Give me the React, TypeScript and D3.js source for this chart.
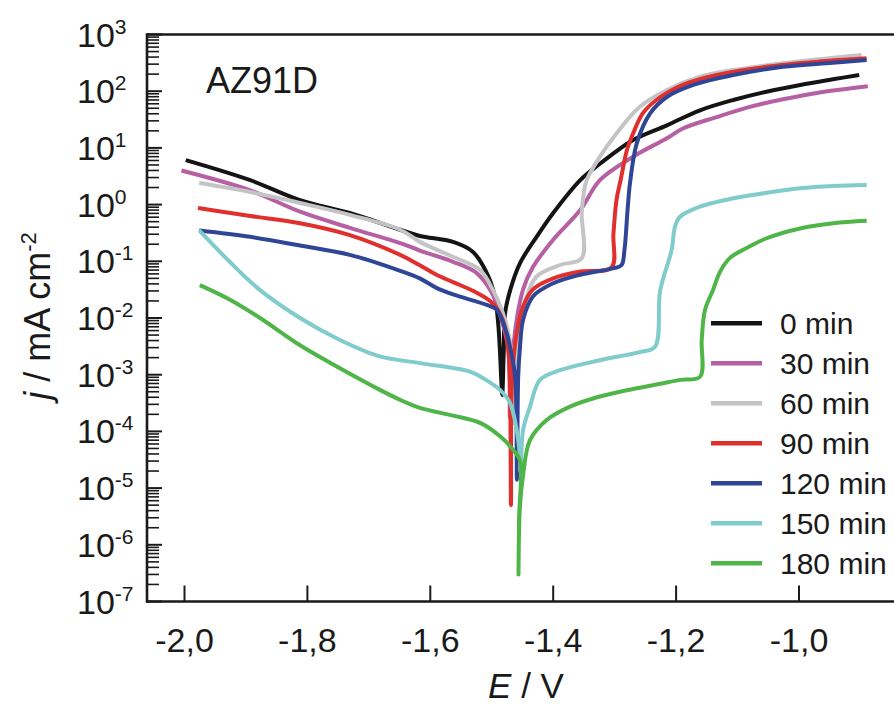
import React from 'react';
import * as d3 from 'd3';

const LEGEND_LABELS = ['0 min', '30 min', '60 min', '90 min', '120 min', '150 min', '180 min'];
const COLORS = ['#141414', '#b65fa2', '#c4c4c7', '#e0302e', '#2f4596', '#80cbcb', '#50b548'];
const X_TICKS = [-2.0, -1.8, -1.6, -1.4, -1.2, -1.0];
const Y_DECADES = [-7, -6, -5, -4, -3, -2, -1, 0, 1, 2, 3];

// [E / V, j / mA cm^-2]
const S0: [number, number][] = [
  [-1.998, 6.1], [-1.893, 2.7], [-1.812, 1.2], [-1.731, 0.71], [-1.649, 0.36], [-1.617, 0.28],
  [-1.563, 0.22], [-1.531, 0.148], [-1.508, 0.062], [-1.495, 0.024], [-1.49, 0.0092],
  [-1.487, 0.0031], [-1.4845, 8.1e-4], [-1.483, 4.4e-4], [-1.4805, 2.5e-3], [-1.4784, 0.012],
  [-1.47, 0.031], [-1.454, 0.093], [-1.427, 0.27], [-1.4, 0.71], [-1.356, 2.7], [-1.3234, 5.3],
  [-1.27, 13.8], [-1.215, 25], [-1.161, 46], [-1.107, 70], [-1.053, 98], [-0.998, 129],
  [-0.945, 162], [-0.902, 193],
];
const S30: [number, number][] = [
  [-2.005, 4.0], [-1.894, 1.8], [-1.812, 0.75], [-1.731, 0.39], [-1.649, 0.21], [-1.617, 0.155],
  [-1.563, 0.098], [-1.5245, 0.062], [-1.5, 0.028], [-1.484, 0.0092], [-1.4736, 0.0031],
  [-1.471, 8e-4], [-1.4705, 1.8e-4], [-1.468, 1.2e-3], [-1.4594, 0.0093], [-1.449, 0.032],
  [-1.433, 0.079], [-1.4, 0.24], [-1.356, 0.8], [-1.324, 2.7], [-1.27, 7], [-1.215, 14.8],
  [-1.189, 22], [-1.134, 35], [-1.08, 53], [-1.026, 72], [-0.971, 93], [-0.888, 122],
];
const S60: [number, number][] = [
  [-1.976, 2.4], [-1.893, 1.67], [-1.812, 1.07], [-1.731, 0.66], [-1.649, 0.36], [-1.617, 0.22],
  [-1.563, 0.12], [-1.519, 0.07], [-1.498, 0.031], [-1.482, 0.0123], [-1.4707, 0.0041],
  [-1.466, 1e-3], [-1.4654, 1.4e-4], [-1.463, 1.2e-3], [-1.4544, 0.0062], [-1.443, 0.024],
  [-1.427, 0.054], [-1.389, 0.086], [-1.3536, 0.113], [-1.3536, 0.7], [-1.351, 1.38],
  [-1.3455, 2.7], [-1.324, 7], [-1.297, 18], [-1.259, 53], [-1.215, 105], [-1.161, 180],
  [-1.107, 237], [-1.026, 310], [-0.898, 435],
];
const S90: [number, number][] = [
  [-1.978, 0.87], [-1.893, 0.63], [-1.812, 0.47], [-1.731, 0.29], [-1.649, 0.13], [-1.617, 0.085],
  [-1.59, 0.058], [-1.563, 0.043], [-1.5245, 0.028], [-1.498, 0.018], [-1.482, 0.0092],
  [-1.4736, 0.0031], [-1.4705, 8e-4], [-1.4687, 5e-6], [-1.467, 8e-4], [-1.4594, 0.0054],
  [-1.449, 0.016], [-1.433, 0.032], [-1.4, 0.05], [-1.356, 0.066], [-1.305, 0.078], [-1.302, 0.3],
  [-1.297, 1.2], [-1.29, 2.8], [-1.28, 9.2], [-1.27, 18], [-1.254, 41], [-1.232, 70],
  [-1.189, 129], [-1.134, 193], [-1.053, 269], [-0.971, 331], [-0.89, 380],
];
const S120: [number, number][] = [
  [-1.976, 0.35], [-1.893, 0.27], [-1.812, 0.19], [-1.731, 0.13], [-1.649, 0.068], [-1.617, 0.05],
  [-1.59, 0.034], [-1.563, 0.026], [-1.508, 0.017], [-1.492, 0.014], [-1.4757, 0.0054],
  [-1.4703, 0.0031], [-1.462, 9.3e-4], [-1.459, 1.4e-5], [-1.457, 9e-4], [-1.454, 0.0031],
  [-1.449, 0.0093], [-1.433, 0.024], [-1.4, 0.041], [-1.356, 0.058], [-1.303, 0.075],
  [-1.289, 0.085], [-1.284, 0.16], [-1.279, 0.8], [-1.275, 2.4], [-1.264, 12], [-1.242, 41],
  [-1.215, 79], [-1.172, 129], [-1.107, 193], [-1.026, 269], [-0.945, 316], [-0.89, 355],
];
const S150: [number, number][] = [
  [-1.976, 0.35], [-1.926, 0.097], [-1.877, 0.031], [-1.812, 0.01], [-1.747, 0.0041],
  [-1.682, 0.0021], [-1.617, 0.0016], [-1.5354, 0.00113], [-1.5095, 8.1e-4], [-1.4866, 5.4e-4],
  [-1.4703, 3.2e-4], [-1.4594, 1.05e-4], [-1.4541, 3.5e-5], [-1.4535, 2e-5], [-1.452, 3.5e-5],
  [-1.449, 1.07e-4], [-1.4377, 2.75e-4], [-1.4215, 8.1e-4], [-1.389, 1.2e-3], [-1.324, 1.8e-3],
  [-1.259, 2.5e-3], [-1.2344, 3.1e-3], [-1.226, 0.03], [-1.2072, 0.16], [-1.2018, 0.41],
  [-1.1937, 0.61], [-1.1611, 0.92], [-1.107, 1.29], [-1.0526, 1.62], [-0.9984, 1.94],
  [-0.9447, 2.13], [-0.8898, 2.22],
];
const S180: [number, number][] = [
  [-1.975, 0.038], [-1.926, 0.021], [-1.877, 0.01], [-1.812, 3.3e-3], [-1.747, 1.3e-3],
  [-1.682, 5.4e-4], [-1.649, 3.6e-4], [-1.617, 2.6e-4], [-1.563, 1.9e-4], [-1.518, 1.4e-4],
  [-1.486, 8.1e-5], [-1.465, 4.7e-5], [-1.4541, 3.1e-5], [-1.4555, 3e-6], [-1.4565, 3e-7],
  [-1.4545, 4e-6], [-1.4487, 1.8e-5], [-1.4378, 7e-5], [-1.4106, 1.59e-4], [-1.3727, 2.73e-4],
  [-1.3352, 3.8e-4], [-1.2913, 5e-4], [-1.2588, 5.9e-4], [-1.226, 6.9e-4], [-1.1937, 8.1e-4],
  [-1.1611, 9.2e-4], [-1.1583, 4.1e-3], [-1.153, 0.0138], [-1.14, 0.031], [-1.1286, 0.065],
  [-1.1123, 0.115], [-1.0906, 0.16], [-1.0526, 0.255], [-0.9984, 0.38], [-0.9442, 0.47],
  [-0.8898, 0.52],
];
const SERIES = [S0, S30, S60, S90, S120, S150, S180];

const W = 894;
const H = 706;
const LEFT = 147;
const TOP = 34.5;
const BOTTOM = 601.5;
const FONT = '"Liberation Sans", Arial, Helvetica, sans-serif';
const INK = '#1a1a1a';

export default function App() {
  const x = d3.scaleLinear().domain([-2.0, -1.0]).range([184.5, 799]);
  const y = d3.scaleLog().domain([1e-7, 1e3]).range([BOTTOM, TOP]);
  const line = d3
    .line<[number, number]>()
    .x((d) => x(d[0]))
    .y((d) => y(d[1]))
    .curve(d3.curveCatmullRom.alpha(0.5));

  const minor: number[] = [];
  for (let e = -7; e < 3; e++) {
    for (let m = 2; m <= 9; m++) minor.push(m * Math.pow(10, e));
  }

  return (
    <svg
      width={W}
      height={H}
      style={{ position: 'absolute', left: 0, top: 0, background: '#fff' }}
      fontFamily={FONT}
    >
      <defs>
        <clipPath id="plot">
          <rect x={LEFT} y={TOP - 3} width={W - LEFT + 10} height={BOTTOM - TOP + 6} />
        </clipPath>
      </defs>
      <rect x={0} y={0} width={W} height={H} fill="#fff" />

      <g clipPath="url(#plot)" fill="none" strokeWidth={4} strokeLinejoin="round" strokeLinecap="butt">
        {SERIES.map((s, i) => (
          <path key={i} d={line(s) || ''} stroke={COLORS[i]} />
        ))}
      </g>

      {/* frame */}
      <g stroke={INK} strokeWidth={2.6} fill="none">
        <line x1={LEFT} x2={W + 5} y1={TOP} y2={TOP} />
        <line x1={LEFT} x2={W + 5} y1={BOTTOM} y2={BOTTOM} />
        <line x1={LEFT} x2={LEFT} y1={TOP - 1.3} y2={BOTTOM + 1.3} />
      </g>

      {/* y ticks */}
      <g stroke={INK} strokeWidth={2}>
        {Y_DECADES.map((e) => (
          <line key={'M' + e} x1={LEFT} x2={LEFT + 15} y1={y(Math.pow(10, e))} y2={y(Math.pow(10, e))} />
        ))}
        {minor.map((v, i) => (
          <line key={'m' + i} x1={LEFT} x2={LEFT + 12} y1={y(v)} y2={y(v)} strokeWidth={1.6} />
        ))}
      </g>
      {/* x ticks */}
      <g stroke={INK} strokeWidth={2}>
        {X_TICKS.map((t) => (
          <line key={t} x1={x(t)} x2={x(t)} y1={BOTTOM} y2={BOTTOM - 16} />
        ))}
      </g>

      {/* y tick labels */}
      <g fill={INK} fontSize={34}>
        {Y_DECADES.map((e) => (
          <text key={e} x={77} y={y(Math.pow(10, e)) + 12}>
            10
            <tspan fontSize={21} dy={-13}>
              {e < 0 ? '-' + Math.abs(e) : String(e)}
            </tspan>
          </text>
        ))}
      </g>
      {/* x tick labels */}
      <g fill={INK} fontSize={34} textAnchor="middle">
        {X_TICKS.map((t) => (
          <text key={t} x={x(t)} y={652}>
            {t.toFixed(1).replace('.', ',')}
          </text>
        ))}
      </g>

      {/* axis titles */}
      <text x={526} y={698} fontSize={35} fill={INK} textAnchor="middle">
        <tspan fontStyle="italic">E</tspan> / V
      </text>
      <g transform="translate(50,316) rotate(-90)">
        <text x={0} y={0} fontSize={36} fill={INK} textAnchor="middle">
          <tspan fontStyle="italic">j</tspan> / mA cm
          <tspan fontSize={22} dy={-14}>-2</tspan>
        </text>
      </g>

      <text x={206} y={93} fontSize={36} fill={INK}>
        AZ91D
      </text>

      {/* legend */}
      <g>
        {LEGEND_LABELS.map((lab, i) => {
          const ly = 323.3 + 40 * i;
          return (
            <g key={lab}>
              <line x1={711} x2={762} y1={ly} y2={ly} stroke={COLORS[i]} strokeWidth={4.5} />
              <text x={780} y={ly + 11} fontSize={30} fill={INK}>
                {lab}
              </text>
            </g>
          );
        })}
      </g>
    </svg>
  );
}
